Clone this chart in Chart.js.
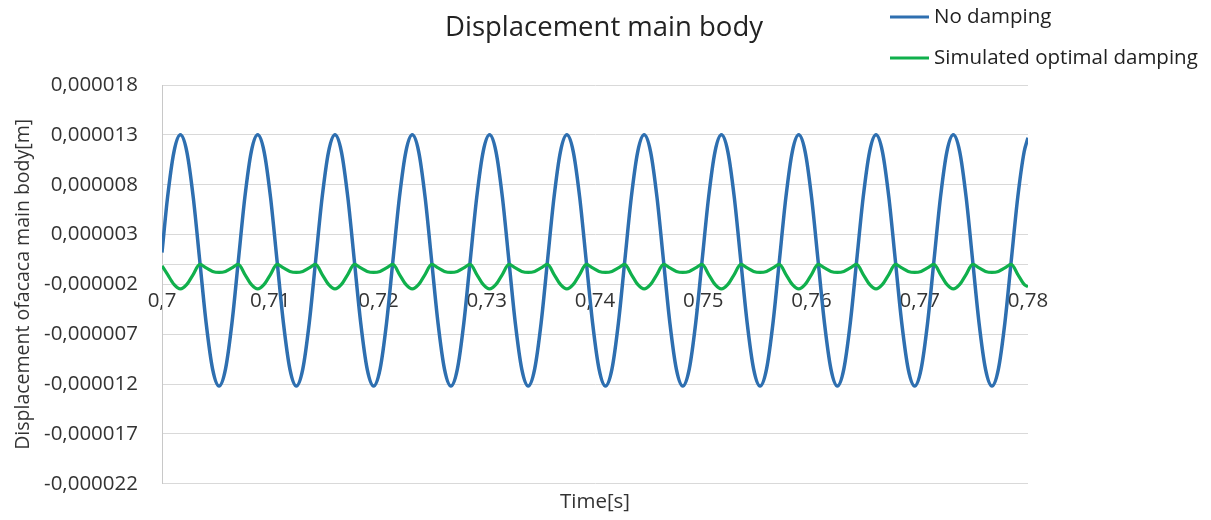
<!DOCTYPE html>
<html>
<head>
<meta charset="utf-8">
<title>Displacement main body</title>
<script src="https://cdn.jsdelivr.net/npm/chart.js@4.4.0/dist/chart.umd.min.js"></script>
<style>
  html, body { margin: 0; padding: 0; background: #fff; }
  #wrap { width: 1211px; height: 520px; }
</style>
</head>
<body>
<div id="wrap"><canvas id="dispChart"></canvas></div>
<script>
// time [s]
const timeS = [
  0.7, 0.70051, 0.701105,
  0.7017, 0.702295, 0.70289, 0.703485, 0.70408, 0.704675, 0.70527, 0.705865, 0.70646, 0.707055, 0.70765, 0.708245,
  0.70884, 0.709435, 0.71003, 0.710625, 0.71122, 0.711815, 0.71241, 0.713005, 0.7136, 0.714195, 0.71479, 0.715385,
  0.71598, 0.716575, 0.71717, 0.717765, 0.71836, 0.718955, 0.71955, 0.720145, 0.72074, 0.721335, 0.72193, 0.722525,
  0.72312, 0.723715, 0.72431, 0.724905, 0.7255, 0.726095, 0.72669, 0.727285, 0.72788, 0.728475, 0.72907, 0.729665,
  0.73026, 0.730855, 0.73145, 0.732045, 0.73264, 0.733235, 0.73383, 0.734425, 0.73502, 0.735615, 0.73621, 0.736805,
  0.7374, 0.737995, 0.73859, 0.739185, 0.73978, 0.740375, 0.74097, 0.741565, 0.74216, 0.742755, 0.74335, 0.743945,
  0.74454, 0.745135, 0.74573, 0.746325, 0.74692, 0.747515, 0.74811, 0.748705, 0.7493, 0.749895, 0.75049, 0.751085,
  0.75168, 0.752275, 0.75287, 0.753465, 0.75406, 0.754655, 0.75525, 0.755845, 0.75644, 0.757035, 0.75763, 0.758225,
  0.75882, 0.759415, 0.76001, 0.760605, 0.7612, 0.761795, 0.76239, 0.762985, 0.76358, 0.764175, 0.76477, 0.765365,
  0.76596, 0.766555, 0.76715, 0.767745, 0.76834, 0.768935, 0.76953, 0.770125, 0.77072, 0.771315, 0.77191, 0.772505,
  0.7731, 0.773695, 0.77429, 0.774885, 0.77548, 0.776075, 0.77667, 0.777265, 0.77786, 0.778455, 0.77905, 0.779645,
  0.78
];

// displacement of the main body, in micrometres
const noDamping = [
  1.2, 6.7, 11.3,
  13.0, 11.3, 6.7, 0.4, -5.9, -10.5, -12.2, -10.5, -5.9, 0.4, 6.7, 11.3,
  13.0, 11.3, 6.7, 0.4, -5.9, -10.5, -12.2, -10.5, -5.9, 0.4, 6.7, 11.3,
  13.0, 11.3, 6.7, 0.4, -5.9, -10.5, -12.2, -10.5, -5.9, 0.4, 6.7, 11.3,
  13.0, 11.3, 6.7, 0.4, -5.9, -10.5, -12.2, -10.5, -5.9, 0.4, 6.7, 11.3,
  13.0, 11.3, 6.7, 0.4, -5.9, -10.5, -12.2, -10.5, -5.9, 0.4, 6.7, 11.3,
  13.0, 11.3, 6.7, 0.4, -5.9, -10.5, -12.2, -10.5, -5.9, 0.4, 6.7, 11.3,
  13.0, 11.3, 6.7, 0.4, -5.9, -10.5, -12.2, -10.5, -5.9, 0.4, 6.7, 11.3,
  13.0, 11.3, 6.7, 0.4, -5.9, -10.5, -12.2, -10.5, -5.9, 0.4, 6.7, 11.3,
  13.0, 11.3, 6.7, 0.4, -5.9, -10.5, -12.2, -10.5, -5.9, 0.4, 6.7, 11.3,
  13.0, 11.3, 6.7, 0.4, -5.9, -10.5, -12.2, -10.5, -5.9, 0.4, 6.7, 11.3,
  13.0, 11.3, 6.7, 0.4, -5.9, -10.5, -12.2, -10.5, -5.9, 0.4, 6.7, 11.3,
  12.7
];

const optimalDamping = [
  -0.15, -1.0, -2.0,
  -2.45, -2.0, -1.0, 0.0, -0.35, -0.7, -0.8, -0.7, -0.35, 0.0, -1.0, -2.0,
  -2.45, -2.0, -1.0, 0.0, -0.35, -0.7, -0.8, -0.7, -0.35, 0.0, -1.0, -2.0,
  -2.45, -2.0, -1.0, 0.0, -0.35, -0.7, -0.8, -0.7, -0.35, 0.0, -1.0, -2.0,
  -2.45, -2.0, -1.0, 0.0, -0.35, -0.7, -0.8, -0.7, -0.35, 0.0, -1.0, -2.0,
  -2.45, -2.0, -1.0, 0.0, -0.35, -0.7, -0.8, -0.7, -0.35, 0.0, -1.0, -2.0,
  -2.45, -2.0, -1.0, 0.0, -0.35, -0.7, -0.8, -0.7, -0.35, 0.0, -1.0, -2.0,
  -2.45, -2.0, -1.0, 0.0, -0.35, -0.7, -0.8, -0.7, -0.35, 0.0, -1.0, -2.0,
  -2.45, -2.0, -1.0, 0.0, -0.35, -0.7, -0.8, -0.7, -0.35, 0.0, -1.0, -2.0,
  -2.45, -2.0, -1.0, 0.0, -0.35, -0.7, -0.8, -0.7, -0.35, 0.0, -1.0, -2.0,
  -2.45, -2.0, -1.0, 0.0, -0.35, -0.7, -0.8, -0.7, -0.35, 0.0, -1.0, -2.0,
  -2.45, -2.0, -1.0, 0.0, -0.35, -0.7, -0.8, -0.7, -0.35, 0.0, -1.0, -2.0,
  -2.25
];

const timeTicks = [0.7, 0.71, 0.72, 0.73, 0.74, 0.75, 0.76, 0.77, 0.78];
const dispTicksUm = [-22, -17, -12, -7, -2, 3, 8, 13, 18];

const FONT = '"Open Sans", "Noto Sans", sans-serif';
const GRID = '#d9d9d9';

// faint line at zero displacement
const zeroLine = {
  id: 'zeroLine',
  beforeDatasetsDraw(chart) {
    const { ctx, chartArea, scales } = chart;
    const y = Math.round(scales.y.getPixelForValue(0)) + 0.5;
    ctx.save();
    ctx.strokeStyle = GRID;
    ctx.lineWidth = 1;
    ctx.beginPath();
    ctx.moveTo(chartArea.left, y);
    ctx.lineTo(chartArea.right, y);
    ctx.stroke();
    ctx.restore();
  }
};

// title across the top and the legend in the upper right corner
const header = {
  id: 'header',
  afterDraw(chart) {
    const ctx = chart.ctx;
    ctx.save();
    ctx.fillStyle = '#222';
    ctx.textBaseline = 'middle';
    ctx.textAlign = 'center';
    ctx.font = '27.5px ' + FONT;
    ctx.fillText('Displacement main body', 604, 28);

    ctx.textAlign = 'left';
    ctx.font = '20.5px ' + FONT;
    const rows = [17, 58];
    chart.data.datasets.forEach((ds, i) => {
      const y = rows[i];
      ctx.strokeStyle = ds.borderColor;
      ctx.lineWidth = 3;
      ctx.beginPath();
      ctx.moveTo(890, y);
      ctx.lineTo(929, y);
      ctx.stroke();
      ctx.fillStyle = '#222';
      ctx.fillText(ds.label, 934, y);
    });
    ctx.restore();
  }
};

const ctx = document.getElementById('dispChart').getContext('2d');
new Chart(ctx, {
  type: 'line',
  data: {
    datasets: [
      {
        label: 'No damping',
        data: timeS.map((t, i) => ({ x: t, y: noDamping[i] })),
        borderColor: '#2e6fb0',
        borderWidth: 3.5,
        pointRadius: 0,
        cubicInterpolationMode: 'monotone',
        order: 1
      },
      {
        label: 'Simulated optimal damping',
        data: timeS.map((t, i) => ({ x: t, y: optimalDamping[i] })),
        borderColor: '#10b04c',
        borderWidth: 3.2,
        pointRadius: 0,
        cubicInterpolationMode: 'monotone',
        order: 0
      }
    ]
  },
  options: {
    responsive: true,
    maintainAspectRatio: false,
    animation: false,
    layout: { padding: { top: 85, right: 183, bottom: 0, left: 4 } },
    plugins: {
      legend: { display: false },
      tooltip: { enabled: false },
      title: { display: false }
    },
    scales: {
      x: {
        type: 'linear',
        position: { y: -2 },
        min: 0.7,
        max: 0.78,
        afterBuildTicks: (scale) => { scale.ticks = timeTicks.map(v => ({ value: v })); },
        grid: { display: false },
        border: { display: false },
        ticks: {
          autoSkip: false,
          maxRotation: 0,
          padding: -3,
          color: '#333',
          font: { family: FONT, size: 20.5 },
          callback: (v) => String(v).replace('.', ',')
        }
      },
      xTitle: {
        type: 'linear',
        position: 'bottom',
        min: 0.7,
        max: 0.78,
        grid: { display: false, drawTicks: false },
        border: { display: false },
        ticks: { display: false },
        title: {
          display: true,
          text: 'Time[s]',
          color: '#333',
          font: { family: FONT, size: 20.5 },
          padding: { top: 6, bottom: 0 }
        }
      },
      y: {
        min: -22,
        max: 18,
        afterBuildTicks: (scale) => { scale.ticks = dispTicksUm.map(v => ({ value: v })); },
        afterFit: (scale) => { scale.width = 158; },
        grid: { color: GRID, drawTicks: false },
        border: { display: true, color: '#c8c8c8' },
        ticks: {
          padding: 24,
          color: '#333',
          font: { family: FONT, size: 20.5 },
          callback: (v) => (v / 1e6).toFixed(6).replace('.', ',')
        },
        title: {
          display: true,
          text: 'Displacement ofacaca main body[m]',
          color: '#333',
          font: { family: FONT, size: 19.5 },
          padding: { top: 8, bottom: 8 }
        }
      }
    }
  },
  plugins: [zeroLine, header]
});
</script>
</body>
</html>
